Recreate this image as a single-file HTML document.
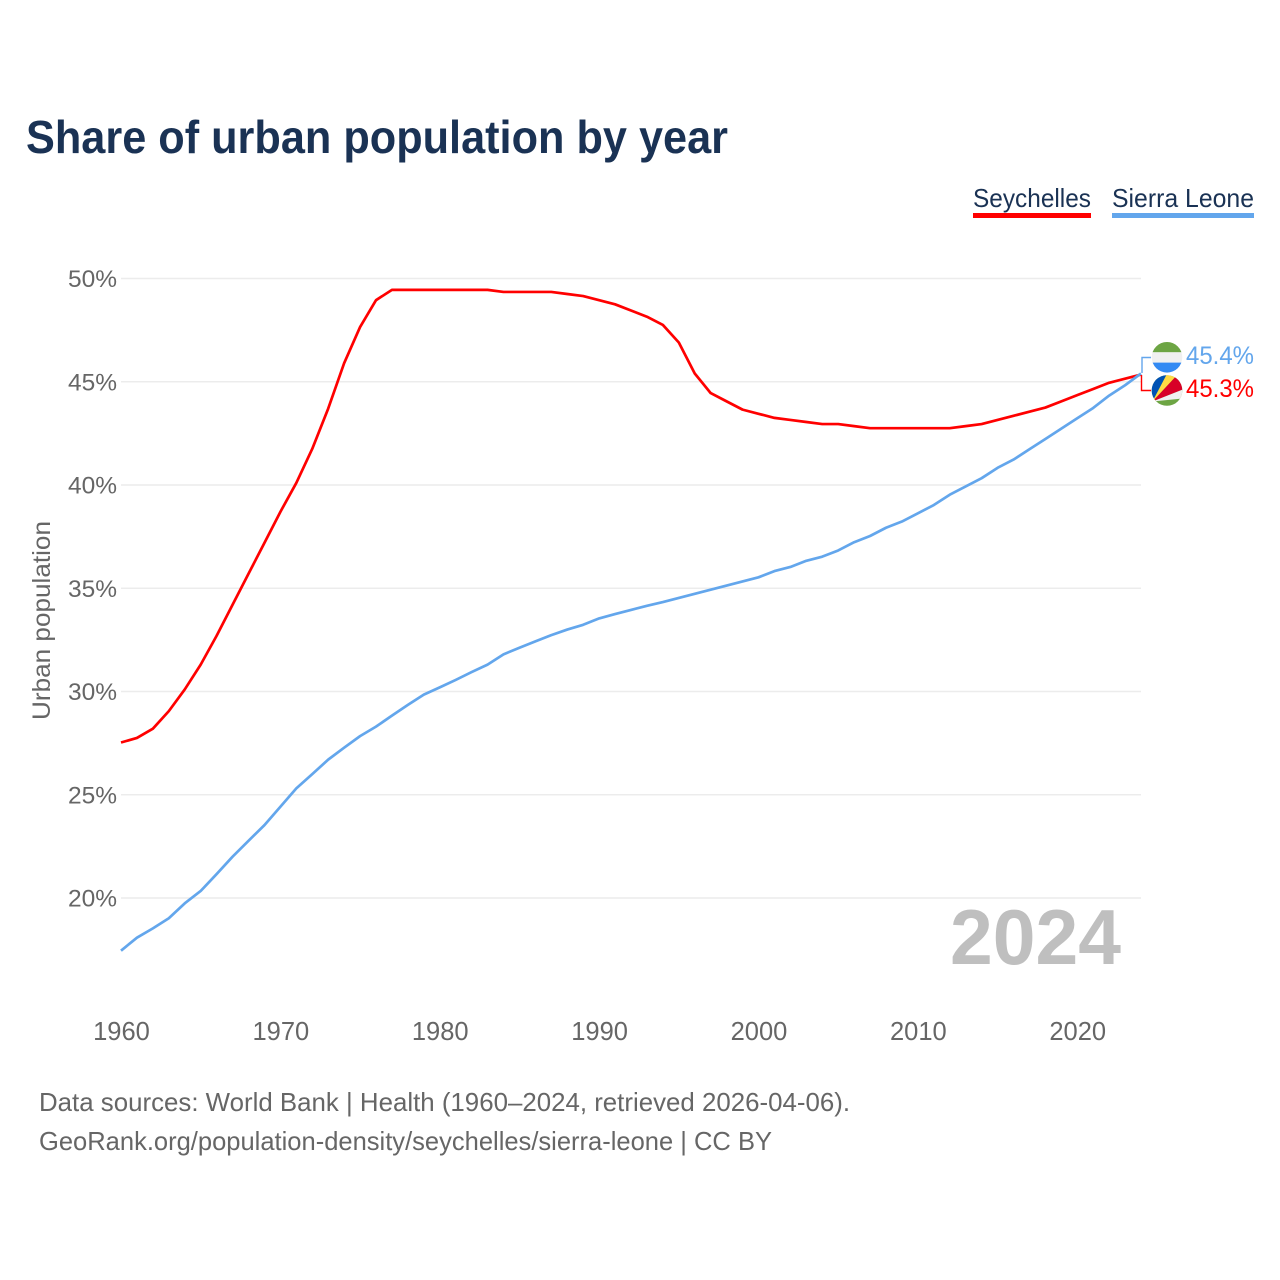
<!DOCTYPE html>
<html lang="en">
<head>
<meta charset="utf-8">
<title>Share of urban population by year</title>
<style>
html,body{margin:0;padding:0;background:#fff;}
svg{display:block;font-family:"Liberation Sans",sans-serif;}
</style>
</head>
<body>
<svg id="chart" xmlns="http://www.w3.org/2000/svg" width="1280" height="1280" viewBox="0 0 1280 1280">
  <defs>
    <clipPath id="clip-sl"><circle cx="1167" cy="357.3" r="15.3"/></clipPath>
    <clipPath id="clip-sc"><circle cx="1167" cy="390.5" r="15.3"/></clipPath>
  </defs>
  <text x="26" y="153" font-size="46" font-weight="700" fill="#1a3254" textLength="702" lengthAdjust="spacingAndGlyphs">Share of urban population by year</text>

  <g>
    <text x="973" y="207" font-size="26" fill="#1a3254" textLength="118" lengthAdjust="spacingAndGlyphs">Seychelles</text>
    <rect x="973" y="213" width="118" height="5" fill="#ff0000"/>
  </g>
  <g>
    <text x="1112" y="207" font-size="26" fill="#1a3254" textLength="142" lengthAdjust="spacingAndGlyphs">Sierra Leone</text>
    <rect x="1112" y="213" width="142" height="5" fill="#63a6ec"/>
  </g>

  <g id="grid"></g>
  <g id="yticks"></g>
  <g id="xticks"></g>

  <text transform="translate(50,720) rotate(-90)" font-size="25" fill="#666666" textLength="199" lengthAdjust="spacingAndGlyphs">Urban population</text>

  <text x="950" y="964" font-size="78" font-weight="700" fill="#bfbfbf" textLength="171" lengthAdjust="spacingAndGlyphs">2024</text>

  <g id="series"></g>

  <path d="M1142 373V357.5H1151" fill="none" stroke="#63a6ec" stroke-width="1.4"/>
  <path d="M1141.5 375V390.5H1151" fill="none" stroke="#ff0000" stroke-width="1.4"/>

  <g clip-path="url(#clip-sl)">
    <rect x="1150" y="340" width="34" height="12.3" fill="#6da544"/>
    <rect x="1150" y="352.3" width="34" height="10.3" fill="#f0f0f0"/>
    <rect x="1150" y="362.6" width="34" height="12" fill="#338af3"/>
  </g>
  <g clip-path="url(#clip-sc)">
    <rect x="1150" y="373" width="34" height="35" fill="#6da544"/>
    <polygon points="1152.5,401.5 1148,371 1168.5,371" fill="#0052b4"/>
    <polygon points="1152.5,401.5 1168.5,371 1180,372" fill="#ffda44"/>
    <polygon points="1152.5,401.5 1180,372 1188,372 1188,387.5" fill="#d80027"/>
    <polygon points="1152.5,401.5 1188,387.5 1188,398" fill="#f0f0f0"/>
  </g>

  <text x="1186" y="364" font-size="25" fill="#63a6ec" textLength="68" lengthAdjust="spacingAndGlyphs">45.4%</text>
  <text x="1186" y="397" font-size="25" fill="#ff0000" textLength="68" lengthAdjust="spacingAndGlyphs">45.3%</text>

  <text x="39" y="1111" font-size="26" fill="#666666" textLength="811" lengthAdjust="spacingAndGlyphs">Data sources: World Bank | Health (1960–2024, retrieved 2026-04-06).</text>
  <text x="39" y="1150" font-size="26" fill="#666666" textLength="733" lengthAdjust="spacingAndGlyphs">GeoRank.org/population-density/seychelles/sierra-leone | CC BY</text>
</svg>
<script>
const firstYear = 1960;
const yTickValues = [20, 25, 30, 35, 40, 45, 50];
const xTickValues = [1960, 1970, 1980, 1990, 2000, 2010, 2020];
const seychelles = [
  27.53, 27.75, 28.2, 29.05, 30.1, 31.3, 32.7, 34.2, 35.7, 37.2,
  38.7, 40.1, 41.75, 43.7, 45.9, 47.65, 48.95, 49.45, 49.45, 49.45,
  49.45, 49.45, 49.45, 49.45, 49.35, 49.35, 49.35, 49.35, 49.25, 49.15,
  48.95, 48.75, 48.45, 48.15, 47.75, 46.9, 45.4, 44.45, 44.05, 43.65,
  43.45, 43.25, 43.15, 43.05, 42.95, 42.95, 42.85, 42.75, 42.75, 42.75,
  42.75, 42.75, 42.75, 42.85, 42.95, 43.15, 43.35, 43.55, 43.75, 44.05,
  44.35, 44.65, 44.95, 45.15, 45.35
];
const sierraLeone = [
  17.45, 18.08, 18.53, 19.02, 19.74, 20.34, 21.16, 22.0, 22.77, 23.53,
  24.42, 25.31, 26.0, 26.7, 27.28, 27.84, 28.3, 28.83, 29.35, 29.85,
  30.2, 30.56, 30.94, 31.3, 31.8, 32.12, 32.43, 32.73, 33.0, 33.23,
  33.54, 33.75, 33.95, 34.15, 34.33, 34.53, 34.73, 34.93, 35.13, 35.33,
  35.53, 35.83, 36.03, 36.33, 36.53, 36.83, 37.23, 37.53, 37.93, 38.23,
  38.63, 39.03, 39.53, 39.93, 40.33, 40.83, 41.23, 41.73, 42.23, 42.73,
  43.23, 43.73, 44.33, 44.83, 45.4
];

const NS = 'http://www.w3.org/2000/svg';
function xScale(year) { return 121 + (year - 1960) * (1141 - 121) / 64; }
function yScale(v) { return 898 - (v - 20) * (898 - 278.5) / 30; }

const grid = document.getElementById('grid');
const yticks = document.getElementById('yticks');
const xticks = document.getElementById('xticks');
const seriesGroup = document.getElementById('series');

yTickValues.forEach(function (v) {
  const line = document.createElementNS(NS, 'line');
  
  
  line.setAttribute('x1', 121);
  line.setAttribute('x2', 1141);
  line.setAttribute('y1', yScale(v));
  line.setAttribute('y2', yScale(v));
  line.setAttribute('stroke', '#ececec');
  line.setAttribute('stroke-width', '1.5');
  grid.appendChild(line);

  const label = document.createElementNS(NS, 'text');
  
  
  label.setAttribute('x', 117);
  label.setAttribute('y', yScale(v) + 8.5);
  label.setAttribute('text-anchor', 'end');
  label.setAttribute('font-size', '24.5');
  label.setAttribute('fill', '#666666');
  label.textContent = v + '%';
  yticks.appendChild(label);
});

xTickValues.forEach(function (year) {
  const label = document.createElementNS(NS, 'text');
  
  
  label.setAttribute('x', xScale(year) + 0.5);
  label.setAttribute('y', 1040);
  label.setAttribute('text-anchor', 'middle');
  label.setAttribute('font-size', '25.5');
  label.setAttribute('fill', '#666666');
  label.textContent = year;
  xticks.appendChild(label);
});

function pathFor(values) {
  return values.map(function (v, i) {
    return (i ? 'L' : 'M') + xScale(firstYear + i).toFixed(2) + ' ' + yScale(v).toFixed(2);
  }).join('');
}

const redLine = document.createElementNS(NS, 'path');


redLine.setAttribute('d', pathFor(seychelles));
redLine.setAttribute('fill', 'none');
redLine.setAttribute('stroke', '#ff0000');
redLine.setAttribute('stroke-width', '2.7');
redLine.setAttribute('stroke-linejoin', 'round');
seriesGroup.appendChild(redLine);

const blueLine = document.createElementNS(NS, 'path');


blueLine.setAttribute('d', pathFor(sierraLeone));
blueLine.setAttribute('fill', 'none');
blueLine.setAttribute('stroke', '#63a6ec');
blueLine.setAttribute('stroke-width', '2.7');
blueLine.setAttribute('stroke-linejoin', 'round');
seriesGroup.appendChild(blueLine);
</script>
</body>
</html>
